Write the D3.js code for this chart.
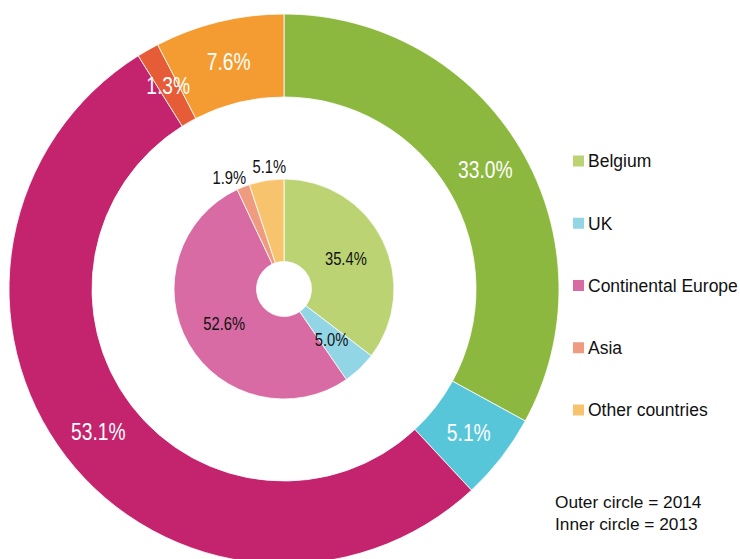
<!DOCTYPE html>
<html lang="en">
<head>
<meta charset="utf-8">
<title>Revenue by region donut</title>
<script src="https://cdnjs.cloudflare.com/ajax/libs/d3/7.8.5/d3.min.js"></script>
<style>
body { margin: 0; background: #fff; }
text { font-family: "Liberation Sans", Arial, sans-serif; }
</style>
</head>
<body>
<script>
var w = 740, h = 559;

// data
var categories = ["Belgium", "UK", "Continental Europe", "Asia", "Other countries"];
var values2014 = [33.0, 5.1, 53.1, 1.3, 7.6];   // outer circle
var values2013 = [35.4, 5.0, 52.6, 1.9, 5.1];   // inner circle
var outerColors = ["#8cb83f", "#58c6d9", "#c4246d", "#e55c37", "#f49c31"];
var innerColors = ["#bcd374", "#92d6e6", "#d86ba3", "#ee9b80", "#f7c36c"];
var noteLines = ["Outer circle = 2014", "Inner circle = 2013"];

var cx = 284, cy = 289;

var svg = d3.select("body").append("svg")
    .attr("width", w)
    .attr("height", h);

var pie = d3.pie().sort(null).value(function(d) { return d.v; });

function rows(vals) {
  return vals.map(function(v, i) { return {cat: categories[i], v: v, i: i}; });
}

var g = svg.append("g").attr("transform", "translate(" + cx + "," + cy + ")");

// outer ring (2014)
var outerArc = d3.arc().innerRadius(192).outerRadius(275);
var outerLabelArc = d3.arc().innerRadius(234).outerRadius(234);

g.selectAll("path.outer")
  .data(pie(rows(values2014)))
  .enter().append("path")
  .attr("class", "outer")
  .attr("d", outerArc)
  .attr("fill", function(d) { return outerColors[d.data.i]; })
  .attr("stroke", "#fff")
  .attr("stroke-width", 0.8);

g.selectAll("text.outer")
  .data(pie(rows(values2014)))
  .enter().append("text")
  .attr("class", "outer")
  .attr("transform", function(d) {
    var c = outerLabelArc.centroid(d);
    return "translate(" + c[0] + "," + (c[1] + 8.5) + ") scale(0.82,1)";
  })
  .attr("text-anchor", "middle")
  .attr("font-size", "23.5px")
  .attr("fill", "#fff")
  .text(function(d) { return d.data.v.toFixed(1) + "%"; });

// inner ring (2013)
var innerArc = d3.arc().innerRadius(27.5).outerRadius(110);
var innerLabelArc = d3.arc().innerRadius(69).outerRadius(69);
var outsideLabelArc = d3.arc().innerRadius(123).outerRadius(123);
var nudge = {"Asia": [-9, 3], "Other countries": [5, -1]};

g.selectAll("path.inner")
  .data(pie(rows(values2013)))
  .enter().append("path")
  .attr("class", "inner")
  .attr("d", innerArc)
  .attr("fill", function(d) { return innerColors[d.data.i]; })
  .attr("stroke", "#fff")
  .attr("stroke-width", 0.8);

g.selectAll("text.inner")
  .data(pie(rows(values2013)))
  .enter().append("text")
  .attr("class", "inner")
  .attr("transform", function(d) {
    var small = d.data.v < 3 || d.data.cat == "Other countries";
    var c = small ? outsideLabelArc.centroid(d) : innerLabelArc.centroid(d);
    var n = nudge[d.data.cat] || [0, 0];
    return "translate(" + (c[0] + n[0]) + "," + (c[1] + n[1] + 6.5) + ") scale(0.82,1)";
  })
  .attr("text-anchor", "middle")
  .attr("font-size", "18px")
  .attr("fill", "#111")
  .text(function(d) { return d.data.v.toFixed(1) + "%"; });

// legend
var legendY = d3.scalePoint().domain(categories).range([161, 410]);

var leg = svg.selectAll("g.legend")
  .data(categories)
  .enter().append("g")
  .attr("class", "legend")
  .attr("transform", function(d) { return "translate(573," + legendY(d) + ")"; });

leg.append("rect")
  .attr("x", 0).attr("y", -5.5)
  .attr("width", 11).attr("height", 11)
  .attr("fill", function(d, i) { return innerColors[i]; });

leg.append("text")
  .attr("x", 15).attr("y", 6.3)
  .attr("font-size", "17.5px")
  .attr("fill", "#111")
  .text(function(d) { return d; });

// note
svg.selectAll("text.note")
  .data(noteLines)
  .enter().append("text")
  .attr("class", "note")
  .attr("x", 555)
  .attr("y", function(d, i) { return 508 + i * 22; })
  .attr("font-size", "17.3px")
  .attr("fill", "#111")
  .text(function(d) { return d; });
</script>
</body>
</html>
